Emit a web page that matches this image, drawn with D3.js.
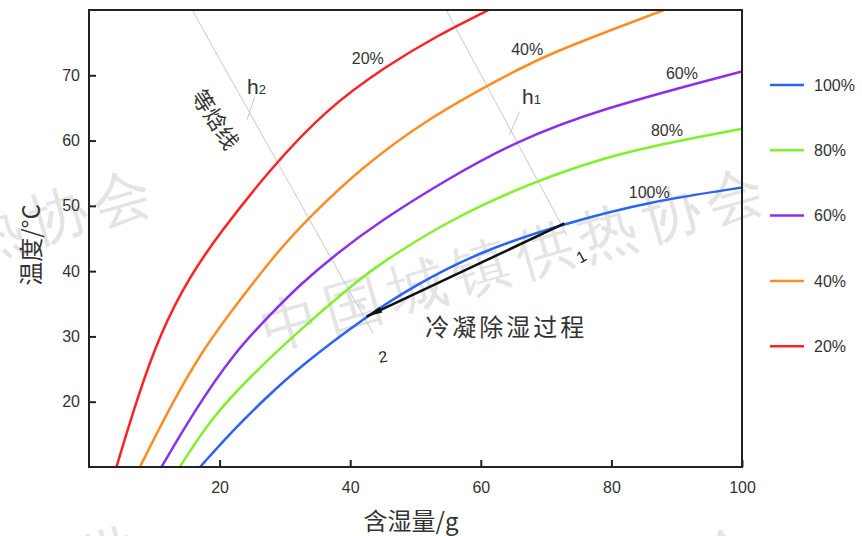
<!DOCTYPE html>
<html>
<head>
<meta charset="utf-8">
<script src="https://cdn.jsdelivr.net/npm/d3@7"></script>
<style>
  body { margin: 0; background: #fff; }
  text { font-family: "Liberation Sans", Arial, sans-serif; }
  .cjk { font-family: "Noto Sans CJK SC", sans-serif; }
</style>
</head>
<body>
<svg id="chart" width="862" height="536"></svg>
<script>
// relative humidity curves, [moisture content g, temperature C]
var rh20 = [[4.2,10],[7.3,20.3],[10.9,30.5],[15.4,39.2],[20.0,45.8],[27.7,55.6],[36.3,64.8],[45.5,71.4],[53.2,76.0],[61.2,80]];
var rh40 = [[7.8,10],[11.9,18.2],[17.0,27.4],[23.1,35.6],[29.2,43.4],[33.8,48.3],[41.4,55.6],[51.6,63.2],[62.8,69.4],[70.5,73.4],[88.1,80]];
var rh60 = [[11.1,10],[15.9,18.2],[22.1,27.4],[28.2,33.8],[32.3,37.9],[37.4,42.3],[44.5,47.6],[54.7,54.0],[65.4,59.9],[78.1,64.8],[100,70.6]];
var rh80 = [[13.9,10],[18.5,17.2],[24.6,23.8],[32.3,31.0],[39.4,37.1],[44.5,41.2],[56.7,48.7],[69.0,54.0],[78.1,57.1],[85.8,59.1],[100,61.8]];
var rh100 = [[17.0,10],[22.1,15.7],[27.2,20.7],[32.3,25.4],[42.5,33.1],[49.5,37.6],[59.8,43.0],[72.8,47.3],[86.0,50.7],[100,52.8]];

var seriesNames = ["100%", "80%", "60%", "40%", "20%"];
var seriesData = [rh100, rh80, rh60, rh40, rh20];
var seriesColors = ["#2b63f6", "#7ff02c", "#8a30ee", "#ff8c24", "#ff2222"];
// curve label positions
var curveLabels = [[85.8,52.1],[88.5,61.6],[90.8,70.3],[67.1,73.9],[42.7,72.6]];

var xTicks = [20, 40, 60, 80, 100];
var yTicks = [20, 30, 40, 50, 60, 70];

// isenthalpic lines and condensation process
var h2Line = [[15.8,80],[43.5,30.5]];
var h1Line = [[54.7,80],[73.2,45.5]];
var process = [[72.8,47.3],[42.5,33.05]];

var svg = d3.select("#chart");
var pLeft = 89, pRight = 742, pTop = 10, pBottom = 467;

var x = d3.scaleLinear().domain([0, 100]).range([pLeft, pRight]);
var y = d3.scaleLinear().domain([10, 80]).range([pBottom, pTop]);

// watermark
var wm = svg.append("g").attr("class", "cjk")
  .style("fill", "#e4e4e4").style("font-size", "58px");
[[268, 350, "中国城镇供热协会"], [-345, 352, "中国城镇供热协会"],
 [85, 582, "供"], [705, 582, "会"]].forEach(function(p) {
  wm.append("text")
    .attr("transform", "translate(" + p[0] + "," + p[1] + ") rotate(-16)")
    .attr("letter-spacing", 8)
    .text(p[2]);
});

var defs = svg.append("defs");
defs.append("clipPath").attr("id", "plot")
  .append("rect").attr("x", pLeft).attr("y", pTop)
  .attr("width", pRight - pLeft).attr("height", pBottom - pTop);

var line = d3.line()
  .x(function(d) { return x(d[0]); })
  .y(function(d) { return y(d[1]); })
  .curve(d3.curveBasis);

var plot = svg.append("g").attr("clip-path", "url(#plot)");

// enthalpy lines
[h2Line, h1Line].forEach(function(l) {
  plot.append("path").attr("d", d3.line()(l.map(function(d) { return [x(d[0]), y(d[1])]; })))
    .attr("stroke", "#c8c8c8").attr("stroke-width", 1).attr("fill", "none");
});

plot.selectAll("path.rh")
  .data(seriesData)
  .enter()
  .append("path")
  .attr("class", "rh")
  .attr("d", line)
  .attr("fill", "none")
  .attr("stroke", function(d, i) { return seriesColors[i]; })
  .attr("stroke-width", 2.5);

// arrow for condensation process
defs.append("marker")
  .attr("id", "arrow")
  .attr("viewBox", "0 0 20 10")
  .attr("refX", 20).attr("refY", 5)
  .attr("markerWidth", 20).attr("markerHeight", 8)
  .attr("markerUnits", "userSpaceOnUse")
  .attr("orient", "auto")
  .append("path").attr("d", "M0,1 L20,5 L0,9 Z").attr("fill", "#111");

svg.append("line")
  .attr("x1", x(process[0][0])).attr("y1", y(process[0][1]))
  .attr("x2", x(process[1][0])).attr("y2", y(process[1][1]))
  .attr("stroke", "#111").attr("stroke-width", 2.5)
  .attr("marker-end", "url(#arrow)");

// frame
svg.append("rect")
  .attr("x", pLeft).attr("y", pTop)
  .attr("width", pRight - pLeft).attr("height", pBottom - pTop)
  .attr("fill", "none").attr("stroke", "#222").attr("stroke-width", 2);

var xAxis = svg.append("g")
  .attr("transform", "translate(0," + pBottom + ")")
  .call(d3.axisBottom(x).tickValues(xTicks).tickSizeInner(-7).tickSizeOuter(0).tickPadding(15));
var yAxis = svg.append("g")
  .attr("transform", "translate(" + pLeft + ",0)")
  .call(d3.axisLeft(y).tickValues(yTicks).tickSizeInner(-7).tickSizeOuter(0).tickPadding(9));

[xAxis, yAxis].forEach(function(a) {
  a.select(".domain").remove();
  a.selectAll(".tick line").attr("stroke", "#222").attr("stroke-width", 2);
  a.selectAll(".tick text").attr("fill", "#333").style("font-size", "16px")
    .style("font-family", "'Liberation Sans', Arial, sans-serif");
});

// axis titles
svg.append("text").attr("class", "cjk")
  .attr("x", 411).attr("y", 530)
  .attr("text-anchor", "middle")
  .style("font-size", "24px").attr("fill", "#333")
  .text("含湿量/g");

svg.append("text").attr("class", "cjk")
  .attr("transform", "translate(40,245) rotate(-90)")
  .attr("text-anchor", "middle")
  .style("font-size", "24px").attr("fill", "#333")
  .text("温度/°C");

// curve labels
svg.selectAll("text.clabel")
  .data(curveLabels)
  .enter()
  .append("text")
  .attr("class", "clabel")
  .attr("x", function(d) { return x(d[0]); })
  .attr("y", function(d) { return y(d[1]); })
  .attr("text-anchor", "middle")
  .attr("dy", "0.35em")
  .style("font-size", "16px").attr("fill", "#333")
  .text(function(d, i) { return seriesNames[i]; });

// h labels with leader lines
var hLabels = [
  { t: "h", s: "2", p: [24.2, 67.2], l: [[25.4,66.7],[24.2,63.2]] },
  { t: "h", s: "1", p: [66.3, 65.6], l: [[65.9,64.4],[64.4,60.9]] }
];
hLabels.forEach(function(h) {
  svg.append("line")
    .attr("x1", x(h.l[0][0])).attr("y1", y(h.l[0][1]))
    .attr("x2", x(h.l[1][0])).attr("y2", y(h.l[1][1]))
    .attr("stroke", "#c8c8c8").attr("stroke-width", 1);
  var t = svg.append("text")
    .attr("x", x(h.p[0])).attr("y", y(h.p[1]))
    .style("font-size", "21px").attr("fill", "#333");
  t.append("tspan").text(h.t);
  t.append("tspan").style("font-size", "13px").text(h.s);
});

svg.append("text").attr("class", "cjk")
  .attr("transform", "translate(" + x(19.3) + "," + y(63.2) + ") rotate(57)")
  .attr("text-anchor", "middle").attr("dy", "0.35em")
  .style("font-size", "22px").attr("fill", "#333")
  .text("等焓线");

svg.append("text").attr("class", "cjk")
  .attr("x", x(51.5)).attr("y", y(31.4))
  .attr("dy", "0.35em")
  .attr("letter-spacing", 3)
  .style("font-size", "24px").attr("fill", "#333")
  .text("冷凝除湿过程");

[["1", 75.4, 42.2, -30], ["2", 45.0, 26.9, -10]].forEach(function(p) {
  svg.append("text")
    .attr("transform", "translate(" + x(p[1]) + "," + y(p[2]) + ") rotate(" + p[3] + ")")
    .attr("text-anchor", "middle").attr("dy", "0.35em")
    .style("font-size", "16px").attr("fill", "#222")
    .text(p[0]);
});

// legend
var legend = svg.append("g").attr("transform", "translate(770,85)");
var items = legend.selectAll("g")
  .data(seriesNames)
  .enter()
  .append("g")
  .attr("transform", function(d, i) { return "translate(0," + (i * 65.3) + ")"; });
items.append("line")
  .attr("x1", 0).attr("x2", 34)
  .attr("stroke", function(d, i) { return seriesColors[i]; })
  .attr("stroke-width", 2.5);
items.append("text")
  .attr("x", 44).attr("dy", "0.35em")
  .style("font-size", "16px").attr("fill", "#333")
  .text(function(d) { return d; });
</script>
</body>
</html>
